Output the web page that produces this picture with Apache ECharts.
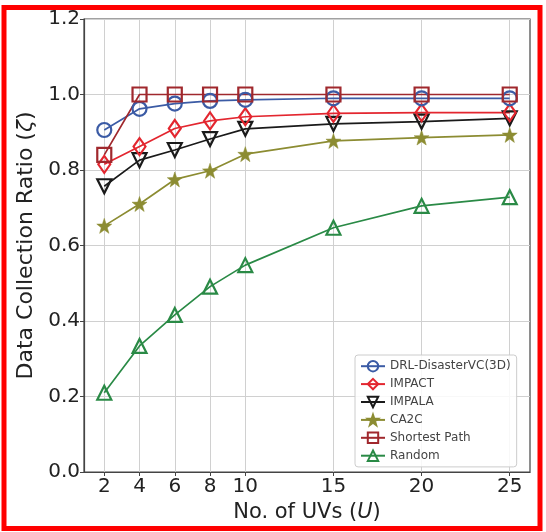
<!DOCTYPE html>
<html>
<head>
<meta charset="utf-8">
<script src="https://cdn.jsdelivr.net/npm/echarts@6/dist/echarts.min.js"></script>
<style>
  html, body { margin: 0; padding: 0; background: #fff; }
  #main { width: 546px; height: 532px; }
</style>
</head>
<body>
<div id="main"></div>
<script>
var uvs = [2, 4, 6, 8, 10, 15, 20, 25];
var drl = [0.906, 0.962, 0.976, 0.983, 0.986, 0.990, 0.990, 0.990];
var impact = [0.815, 0.862, 0.910, 0.930, 0.941, 0.950, 0.952, 0.952];
var impala = [0.757, 0.826, 0.853, 0.882, 0.909, 0.922, 0.928, 0.937];
var ca2c = [0.652, 0.710, 0.775, 0.798, 0.842, 0.877, 0.886, 0.893];
var shortest = [0.840, 1.0, 1.0, 1.0, 1.0, 1.0, 1.0, 1.0];
var random = [0.210, 0.334, 0.416, 0.491, 0.548, 0.647, 0.705, 0.728];
var yTicks = [0, 0.2, 0.4, 0.6, 0.8, 1.0, 1.2];

var myChart = echarts.init(document.getElementById('main'));

function pairs(ys) {
    return uvs.map(function (x, i) { return [x, ys[i]]; });
}

var starPath = 'path://M0,-10 L2.35,-3.24 L9.51,-3.09 L3.8,1.24 L5.88,8.09 L0,4 L-5.88,8.09 L-3.8,1.24 L-9.51,-3.09 L-2.35,-3.24 Z';

function line(name, ys, color, symbol, size, filled, rotate) {
    return {
        name: name,
        type: 'line',
        data: pairs(ys),
        symbol: symbol,
        symbolSize: size,
        symbolRotate: rotate || 0,
        showAllSymbol: true,
        lineStyle: { color: color, width: 1.7 },
        itemStyle: {
            color: filled ? color : 'rgba(255,255,255,0)',
            borderColor: color,
            borderWidth: filled ? 0.5 : 2.2
        },
        emphasis: { disabled: true },
        animation: false
    };
}

var tickFont = { fontFamily: 'DejaVu Sans', fontSize: 20, color: '#222' };

option = {
    animation: false,
    graphic: [{
        type: 'rect',
        shape: { x: 4, y: 7.5, width: 536, height: 521 },
        style: { fill: 'none', stroke: '#ff0000', lineWidth: 5 },
        z: 100
    }],
    grid: {
        left: 84, right: 16, top: 19, bottom: 60,
        show: true, borderColor: '#444', borderWidth: 1.2
    },
    legend: {
        orient: 'vertical',
        left: 355, top: 355,
        itemWidth: 24, itemHeight: 13, itemGap: 5.5,
        padding: [5, 6, 5, 5],
        borderColor: '#ccc', borderWidth: 1, borderRadius: 3,
        backgroundColor: 'rgba(255,255,255,0.85)',
        textStyle: { fontFamily: 'DejaVu Sans', fontSize: 12, color: '#444' },
        data: ['DRL-DisasterVC(3D)', 'IMPACT', 'IMPALA', 'CA2C', 'Shortest Path', 'Random']
    },
    xAxis: {
        type: 'value',
        min: 0.85, max: 26.15,
        name: 'No. of UVs ({i|U})',
        nameLocation: 'middle',
        nameGap: 28,
        nameTextStyle: {
            fontFamily: 'DejaVu Sans', fontSize: 21, color: '#222',
            rich: { i: { fontFamily: 'DejaVu Sans', fontSize: 21, fontStyle: 'italic', color: '#222' } }
        },
        axisLine: { show: true, lineStyle: { color: '#444', width: 1.2 } },
        axisTick: { show: true, length: 4, customValues: uvs, lineStyle: { color: '#444' } },
        axisLabel: Object.assign({ customValues: uvs, margin: 5 }, tickFont),
        splitLine: { show: true, lineStyle: { color: '#d0d0d0', width: 1 } }
    },
    yAxis: {
        type: 'value',
        min: 0, max: 1.2, interval: 0.2,
        name: 'Data Collection Ratio ({i|ζ})',
        nameLocation: 'middle',
        nameGap: 46,
        nameTextStyle: {
            fontFamily: 'DejaVu Sans', fontSize: 22, color: '#222',
            rich: { i: { fontFamily: 'DejaVu Sans', fontSize: 22, fontStyle: 'italic', color: '#222' } }
        },
        axisLine: { show: true, lineStyle: { color: '#444', width: 1.2 } },
        axisTick: { show: true, length: 4, lineStyle: { color: '#444' } },
        axisLabel: Object.assign({
            margin: 4,
            formatter: function (v) { return v.toFixed(1); }
        }, tickFont),
        splitLine: { show: true, lineStyle: { color: '#d0d0d0', width: 1 } }
    },
    series: [
        line('Random', random, '#2a8a46', 'triangle', 14, false),
        line('CA2C', ca2c, '#8c8c32', starPath, 15, true),
        line('IMPALA', impala, '#1a1a1a', 'triangle', 14, false, 180),
        line('IMPACT', impact, '#e3262f', 'diamond', [12, 17], false),
        line('DRL-DisasterVC(3D)', drl, '#3b5ba5', 'circle', 14, false),
        line('Shortest Path', shortest, '#a0282d', 'rect', 14, false)
    ]
};

myChart.setOption(option);
</script>
</body>
</html>
